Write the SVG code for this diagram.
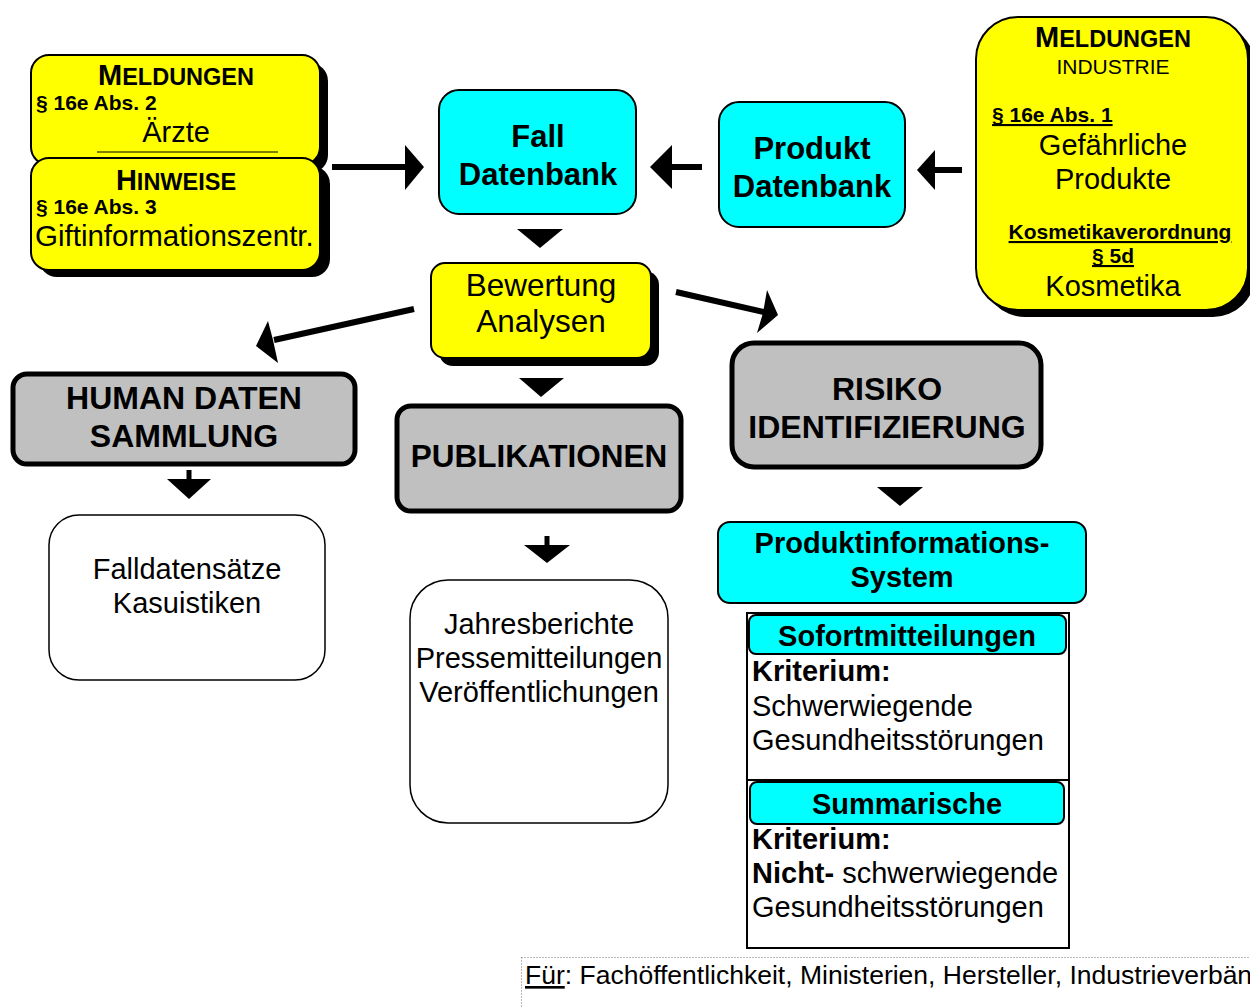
<svg xmlns="http://www.w3.org/2000/svg" width="1250" height="1008" viewBox="0 0 1250 1008">
<style>
text{font-family:"Liberation Sans",Arial,sans-serif;fill:#000}
.b{font-weight:bold}
.c{text-anchor:middle}
.yel{fill:#ffff00;stroke:#000;stroke-width:2}
.cy{fill:#00ffff;stroke:#000;stroke-width:2}
.gr{fill:#c0c0c0;stroke:#000;stroke-width:5}
.wh{fill:#fff;stroke:#000;stroke-width:1.5}
.sh{fill:#000}
.ln{stroke:#000;stroke-width:6;fill:none}
.hd{fill:#000}
</style>
<rect width="1250" height="1008" fill="#fff"/>
<g id="connectors">
<line class="ln" x1="332" y1="167" x2="406" y2="167"/>
<polygon class="hd" points="405,145 424,167 405,190"/>
<line class="ln" x1="702" y1="167" x2="670" y2="167"/>
<polygon class="hd" points="672,145 650,167 672,189"/>
<line class="ln" x1="962" y1="170" x2="933" y2="170"/>
<polygon class="hd" points="935,150 917,170 935,190"/>
<polygon class="hd" points="517,229 563,229 540,248"/>
<polygon class="hd" points="519,378 564,378 541,397"/>
<line class="ln" x1="414" y1="309" x2="274" y2="340"/>
<polygon class="hd" points="256,346 268,321 273,340 278,363"/>
<line class="ln" x1="676" y1="292" x2="764" y2="312"/>
<polygon class="hd" points="778,315 767,290 763,313 757,333"/>
<line x1="189" y1="470" x2="189" y2="480" stroke="#000" stroke-width="5"/>
<polygon class="hd" points="167,479 211,479 189,499"/>
<line x1="547" y1="536" x2="547" y2="546" stroke="#000" stroke-width="5"/>
<polygon class="hd" points="524,545 570,545 547,563"/>
<polygon class="hd" points="877,487 923,487 900,506"/>
</g>
<g id="meldungen-aerzte">
<rect class="sh" x="39" y="63" width="289" height="110" rx="18"/>
<rect class="yel" x="31" y="55" width="289" height="110" rx="18"/>
<text class="b c" x="176" y="85"><tspan font-size="29">M</tspan><tspan font-size="23.5">ELDUNGEN</tspan></text>
<text class="b" x="36" y="110" font-size="21">§ 16e Abs. 2</text>
<text class="c" x="176" y="142" font-size="29">Ärzte</text>
<line x1="97" y1="152" x2="278" y2="152" stroke="#000" stroke-width="1"/>
</g>
<g id="hinweise">
<rect class="sh" x="39" y="166" width="291" height="111" rx="18"/>
<rect class="yel" x="31" y="158" width="289" height="112" rx="18"/>
<text class="b c" x="176" y="190"><tspan font-size="29">H</tspan><tspan font-size="23.5">INWEISE</tspan></text>
<text class="b" x="36" y="214" font-size="21">§ 16e Abs. 3</text>
<text x="35" y="246" font-size="29.5">Giftinformationszentr.</text>
</g>
<g id="fall-datenbank">
<rect class="cy" x="439" y="90" width="197" height="124" rx="20"/>
<text class="b c" x="538" y="147" font-size="31">Fall</text>
<text class="b c" x="538" y="185" font-size="31">Datenbank</text>
</g>
<g id="produkt-datenbank">
<rect class="cy" x="719" y="102" width="186" height="125" rx="20"/>
<text class="b c" x="812" y="159" font-size="31">Produkt</text>
<text class="b c" x="812" y="197" font-size="31">Datenbank</text>
</g>
<g id="meldungen-industrie">
<rect class="sh" x="983" y="24" width="272" height="293" rx="42"/>
<rect class="yel" x="976" y="17" width="272" height="293" rx="42"/>
<text class="b c" x="1113" y="47"><tspan font-size="29">M</tspan><tspan font-size="23.5">ELDUNGEN</tspan></text>
<text class="c" x="1113" y="74" font-size="21">INDUSTRIE</text>
<text class="b" x="992" y="122" font-size="21" text-decoration="underline">§ 16e Abs. 1</text>
<text class="c" x="1113" y="155" font-size="29">Gefährliche</text>
<text class="c" x="1113" y="189" font-size="29">Produkte</text>
<text class="b c" x="1120" y="239" font-size="21" text-decoration="underline">Kosmetikaverordnung</text>
<text class="b c" x="1113" y="263" font-size="21" text-decoration="underline"> § 5d</text>
<text class="c" x="1113" y="296" font-size="29">Kosmetika</text>
</g>
<g id="bewertung">
<rect class="sh" x="439" y="271" width="220" height="95" rx="14"/>
<rect class="yel" x="431" y="263" width="220" height="95" rx="14"/>
<text class="c" x="541" y="296" font-size="31.5">Bewertung</text>
<text class="c" x="541" y="332" font-size="31.5">Analysen</text>
</g>
<g id="human-daten">
<rect class="gr" x="13" y="374" width="342" height="90" rx="14"/>
<text class="b c" x="184" y="409" font-size="32">HUMAN DATEN</text>
<text class="b c" x="184" y="447" font-size="32">SAMMLUNG</text>
</g>
<g id="publikationen">
<rect class="gr" x="397" y="406" width="284" height="105" rx="14"/>
<text class="b c" x="539" y="467" font-size="31.5">PUBLIKATIONEN</text>
</g>
<g id="risiko">
<rect class="gr" x="732" y="343" width="309" height="124" rx="22"/>
<text class="b c" x="887" y="400" font-size="32">RISIKO</text>
<text class="b c" x="887" y="438" font-size="32">IDENTIFIZIERUNG</text>
</g>
<g id="falldaten">
<rect class="wh" x="49" y="515" width="276" height="165" rx="30"/>
<text class="c" x="187" y="579" font-size="29">Falldatensätze</text>
<text class="c" x="187" y="613" font-size="29">Kasuistiken</text>
</g>
<g id="jahresberichte">
<rect class="wh" x="410" y="580" width="258" height="243" rx="38"/>
<text class="c" x="539" y="634" font-size="29">Jahresberichte</text>
<text class="c" x="539" y="668" font-size="29">Pressemitteilungen</text>
<text class="c" x="539" y="702" font-size="29">Veröffentlichungen</text>
</g>
<g id="produktinfo">
<rect class="cy" x="718" y="522" width="368" height="81" rx="12"/>
<text class="b c" x="902" y="553" font-size="29">Produktinformations-</text>
<text class="b c" x="902" y="587" font-size="29">System</text>
</g>
<g id="mitteilungen">
<rect x="747" y="613" width="322" height="335" fill="#fff" stroke="#000" stroke-width="2"/>
<line x1="747" y1="780" x2="1069" y2="780" stroke="#000" stroke-width="2"/>
<rect class="cy" x="749" y="615" width="317" height="39" rx="7"/>
<text class="b c" x="907" y="646" font-size="29">Sofortmitteilungen</text>
<text class="b" x="752" y="681" font-size="29">Kriterium:</text>
<text x="752" y="716" font-size="29">Schwerwiegende</text>
<text x="752" y="750" font-size="29">Gesundheitsstörungen</text>
<rect class="cy" x="750" y="782" width="314" height="42" rx="7"/>
<text class="b c" x="907" y="814" font-size="29">Summarische</text>
<text class="b" x="752" y="849" font-size="29">Kriterium:</text>
<text x="752" y="883" font-size="29"><tspan font-weight="bold">Nicht-</tspan> schwerwiegende</text>
<text x="752" y="917" font-size="29">Gesundheitsstörungen</text>
</g>
<g id="zielgruppen">
<rect x="521.5" y="957.5" width="740" height="60" fill="#fff" stroke="#777" stroke-width="1" stroke-dasharray="1,2"/>
<text x="525" y="984" font-size="26.5"><tspan text-decoration="underline">Für</tspan>: Fachöffentlichkeit, Ministerien, Hersteller, Industrieverbän</text>
</g>
</svg>
